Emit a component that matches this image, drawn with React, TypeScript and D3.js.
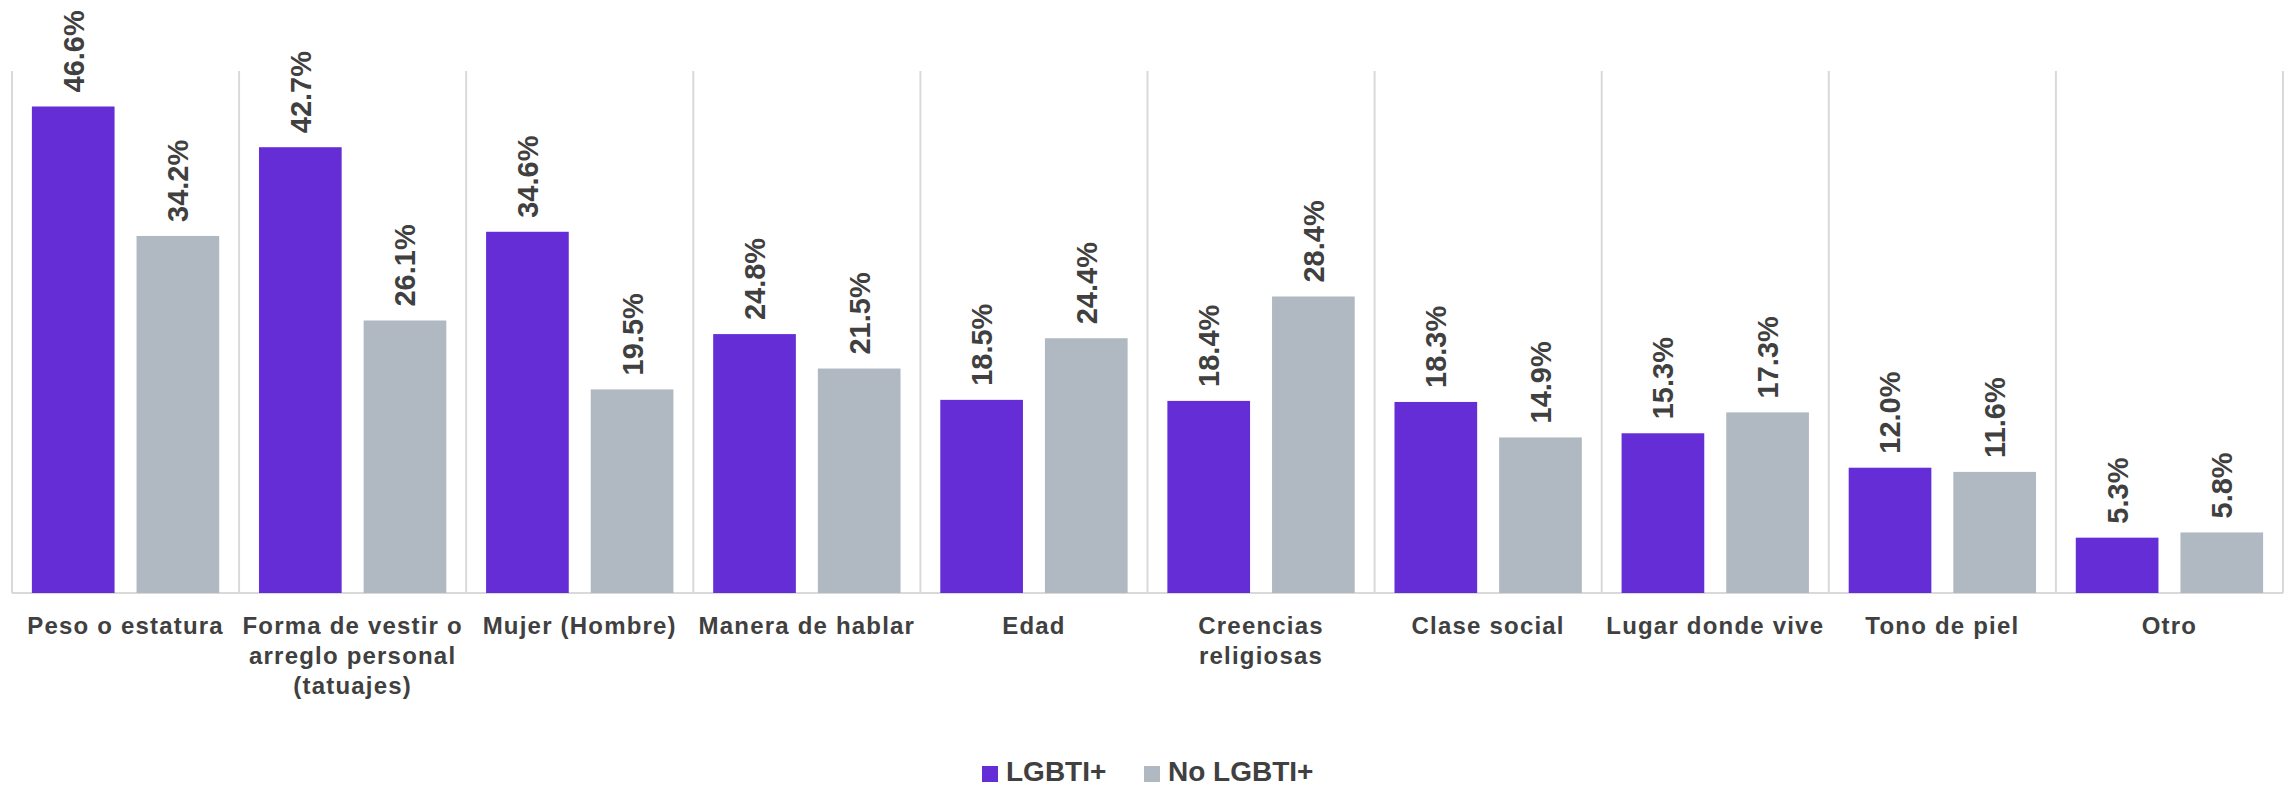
import React, { useEffect, useRef } from 'react';
import * as d3 from 'd3';

const categories = [
  ['Peso o estatura'],
  ['Forma de vestir o', 'arreglo personal', '(tatuajes)'],
  ['Mujer (Hombre)'],
  ['Manera de hablar'],
  ['Edad'],
  ['Creencias', 'religiosas'],
  ['Clase social'],
  ['Lugar donde vive'],
  ['Tono de piel'],
  ['Otro'],
];
const lgbti = [46.6, 42.7, 34.6, 24.8, 18.5, 18.4, 18.3, 15.3, 12.0, 5.3];
const noLgbti = [34.2, 26.1, 19.5, 21.5, 24.4, 28.4, 14.9, 17.3, 11.6, 5.8];
const seriesNames = ['LGBTI+', 'No LGBTI+'];
const colors = ['#652dd6', '#b0b8c1'];

const W = 2290;
const H = 788;
const FONT = '"Liberation Sans", Arial, sans-serif';

export default function App() {
  const ref = useRef<SVGSVGElement>(null);

  useEffect(() => {
    const svg = d3.select(ref.current);
    svg.selectAll('*').remove();

    const left = 12;
    const right = 2283;
    const top = 71;
    const bottom = 593;

    const keys = categories.map((c, i) => String(i));
    const x = d3.scaleBand().domain(keys).range([left, right]).padding(0);
    const x1 = d3
      .scaleBand()
      .domain(seriesNames)
      .range([0, x.bandwidth()])
      .paddingInner(0.21)
      .paddingOuter(0.19);
    const y = d3.scaleLinear().domain([0, 50]).range([bottom, top]);

    // frame / separators
    const grid = svg.append('g').attr('stroke', '#d9d9d9').attr('stroke-width', 2);
    keys.concat(['end']).forEach((k, i) => {
      const gx = i < keys.length ? (x(k) as number) : right;
      grid.append('line').attr('x1', gx).attr('x2', gx).attr('y1', top).attr('y2', bottom);
    });
    grid.append('line').attr('x1', left).attr('x2', right).attr('y1', bottom).attr('y2', bottom);

    const rows = keys.map((k, i) => ({ key: k, values: [lgbti[i], noLgbti[i]] }));

    const groups = svg
      .selectAll('.cat')
      .data(rows)
      .join('g')
      .attr('class', 'cat')
      .attr('transform', d => `translate(${x(d.key)},0)`);

    groups
      .selectAll('rect')
      .data(d => d.values.map((v, j) => ({ v, s: seriesNames[j], j })))
      .join('rect')
      .attr('x', d => x1(d.s) as number)
      .attr('width', x1.bandwidth())
      .attr('y', d => y(d.v))
      .attr('height', d => bottom - y(d.v))
      .attr('fill', d => colors[d.j]);

    groups
      .selectAll('text.val')
      .data(d => d.values.map((v, j) => ({ v, s: seriesNames[j], j })))
      .join('text')
      .attr('class', 'val')
      .attr('transform', d => `translate(${(x1(d.s) as number) + x1.bandwidth() / 2},${y(d.v) - 14}) rotate(-90)`)
      .attr('dy', '0.36em')
      .attr('text-anchor', 'start')
      .attr('font-family', FONT)
      .attr('font-weight', 'bold')
      .attr('font-size', 29)
      .attr('fill', '#404040')
      .text(d => `${d.v.toFixed(1)}%`);

    // category labels
    groups.each(function (d, i) {
      const t = d3
        .select(this)
        .append('text')
        .attr('x', x.bandwidth() / 2)
        .attr('y', 634)
        .attr('text-anchor', 'middle')
        .attr('font-family', FONT)
        .attr('font-weight', 'bold')
        .attr('font-size', 24)
        .attr('letter-spacing', 1.2)
        .attr('fill', '#404040');
      categories[i].forEach((line, li) => {
        t.append('tspan').attr('x', x.bandwidth() / 2).attr('dy', li === 0 ? 0 : 30).text(line);
      });
    });

    // legend
    const legend = svg.append('g');
    const legendX = [982, 1144];
    seriesNames.forEach((name, i) => {
      legend
        .append('rect')
        .attr('x', legendX[i])
        .attr('y', 766)
        .attr('width', 16)
        .attr('height', 16)
        .attr('fill', colors[i]);
      legend
        .append('text')
        .attr('x', legendX[i] + 24)
        .attr('y', 781)
        .attr('font-family', FONT)
        .attr('font-weight', 'bold')
        .attr('font-size', 28)
        .attr('fill', '#404040')
        .text(name);
    });
  }, []);

  return (
    <svg
      ref={ref}
      width={W}
      height={H}
      style={{ position: 'absolute', left: 0, top: 0, background: '#fff' }}
    />
  );
}
